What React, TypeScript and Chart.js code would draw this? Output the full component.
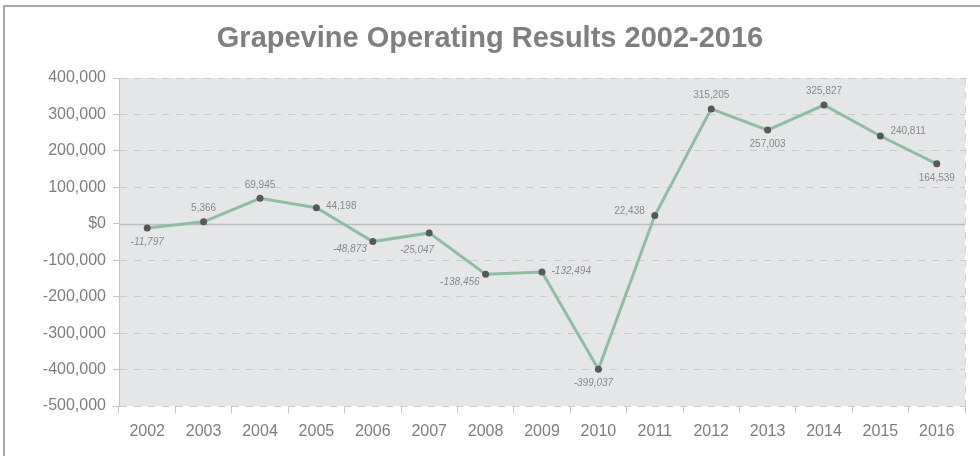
import React, { useEffect, useRef } from 'react';
import { Chart, registerables } from 'chart.js';

Chart.register(...registerables);

const chartTitle = 'Grapevine Operating Results 2002-2016';
const years = ['2002', '2003', '2004', '2005', '2006', '2007', '2008', '2009', '2010', '2011', '2012', '2013', '2014', '2015', '2016'];
const operatingResults = [-11797, 5366, 69945, 44198, -48873, -25047, -138456, -132494, -399037, 22438, 315205, 257003, 325827, 240811, 164539];
const yMin = -500000;
const yMax = 400000;
const yStep = 100000;
// where each value label sits relative to its point
const labelPlacement = ['below', 'above', 'above', 'right', 'belowLeft', 'belowNear', 'belowLeft', 'right', 'belowShift', 'left', 'above', 'below', 'above', 'rightUp', 'below'];

const FONT = '"Liberation Sans", Arial, sans-serif';
const GREY_TEXT = '#7d7d7f';

const fmt = (v: number) => (v === 0 ? '$0' : v.toLocaleString('en-US'));

const plotBgPlugin = {
  id: 'plotBg',
  beforeDraw(chart: any) {
    const { ctx, chartArea: a } = chart;
    ctx.save();
    ctx.fillStyle = '#e5e6e8';
    ctx.fillRect(a.left, a.top, a.right - a.left, a.bottom - a.top);
    ctx.restore();
  },
  beforeDatasetsDraw(chart: any) {
    const { ctx, chartArea: a, scales } = chart;
    const y0 = Math.round(scales.y.getPixelForValue(0)) + 0.5;
    ctx.save();
    ctx.strokeStyle = '#bdbdbf';
    ctx.lineWidth = 1.5;
    ctx.beginPath();
    ctx.moveTo(a.left, y0);
    ctx.lineTo(a.right, y0);
    ctx.stroke();
    ctx.restore();
  },
};

const titlePlugin = {
  id: 'customTitle',
  afterDraw(chart: any) {
    const { ctx, width } = chart;
    ctx.save();
    ctx.fillStyle = '#7f7f81';
    ctx.font = 'bold 29px ' + FONT;
    ctx.textAlign = 'center';
    ctx.textBaseline = 'alphabetic';
    ctx.fillText(chartTitle, width / 2, 47);
    ctx.restore();
  },
};

const valueLabelPlugin = {
  id: 'valueLabels',
  afterDatasetsDraw(chart: any) {
    const { ctx } = chart;
    const meta = chart.getDatasetMeta(0);
    ctx.save();
    ctx.fillStyle = '#8a8a8c';
    ctx.textBaseline = 'middle';
    meta.data.forEach((pt: any, i: number) => {
      const v = operatingResults[i];
      const neg = v < 0;
      ctx.font = (neg ? 'italic ' : '') + '10px ' + FONT;
      const txt = v.toLocaleString('en-US');
      let x = pt.x;
      let y = pt.y;
      let align: CanvasTextAlign = 'center';
      switch (labelPlacement[i]) {
        case 'above':
          y -= 13.5;
          break;
        case 'below':
          y += 14;
          break;
        case 'belowShift':
          x -= 5;
          y += 14;
          break;
        case 'belowNear':
          x -= 12;
          y += 17;
          break;
        case 'belowLeft':
          align = 'right';
          x -= 6;
          y += 8;
          break;
        case 'right':
          align = 'left';
          x += 9.5;
          y -= 1;
          break;
        case 'rightUp':
          align = 'left';
          x += 10;
          y -= 5;
          break;
        case 'left':
          align = 'right';
          x -= 10;
          y -= 4;
          break;
      }
      ctx.textAlign = align;
      ctx.fillText(txt, x, y);
    });
    ctx.restore();
  },
};

export default function App() {
  const canvasRef = useRef<HTMLCanvasElement | null>(null);

  useEffect(() => {
    if (!canvasRef.current) return;
    const chart = new Chart(canvasRef.current, {
      type: 'line',
      data: {
        labels: years,
        datasets: [
          {
            data: operatingResults,
            borderColor: '#8fbea3',
            borderWidth: 3,
            pointBackgroundColor: '#58585a',
            pointBorderColor: '#58585a',
            pointRadius: 3.5,
            pointBorderWidth: 0,
            tension: 0,
            fill: false,
          },
        ],
      },
      options: {
        animation: false,
        responsive: false,
        maintainAspectRatio: false,
        layout: { padding: { top: 78, right: 15, bottom: 0, left: 0 } },
        plugins: {
          legend: { display: false },
          tooltip: { enabled: false },
          title: { display: false },
        },
        scales: {
          x: {
            offset: true,
            afterFit: (s: any) => {
              s.height = 50;
            },
            grid: {
              offset: true,
              drawOnChartArea: true,
              color: (c: any) => (c.index === undefined ? '#cfd0d2' : 'rgba(0,0,0,0)'),
              tickColor: '#c4c4c6',
              tickLength: 7,
              lineWidth: 1,
            },
            border: { display: false, dash: [7, 7] },
            ticks: {
              color: GREY_TEXT,
              font: { family: FONT, size: 16 },
              padding: 9,
              maxRotation: 0,
              autoSkip: false,
            },
          },
          y: {
            min: yMin,
            max: yMax,
            afterFit: (s: any) => {
              s.width = 119;
            },
            grid: {
              color: (c: any) => (c.tick && c.tick.value === 0 ? 'rgba(0,0,0,0)' : '#c9cacc'),
              tickColor: '#c4c4c6',
              tickLength: 6,
              lineWidth: 1,
            },
            border: { display: true, color: '#c4c4c6', width: 1, dash: [7, 7] },
            ticks: {
              stepSize: yStep,
              color: GREY_TEXT,
              font: { family: FONT, size: 16 },
              padding: 7,
              callback: (v: any) => fmt(Number(v)),
            },
          },
        },
      },
      plugins: [plotBgPlugin, valueLabelPlugin, titlePlugin],
    });
    return () => chart.destroy();
  }, []);

  return (
    <div style={{ position: 'fixed', left: 0, top: 0, width: 980, height: 456, overflow: 'hidden', background: '#ffffff' }}>
      <div
        style={{
          position: 'absolute',
          left: 3,
          top: 5,
          width: 1010,
          height: 480,
          border: '2px solid #a6a6a8',
          boxSizing: 'border-box',
        }}
      />
      <canvas ref={canvasRef} width={980} height={456} style={{ position: 'absolute', left: 0, top: 0, width: 980, height: 456 }} />
    </div>
  );
}
